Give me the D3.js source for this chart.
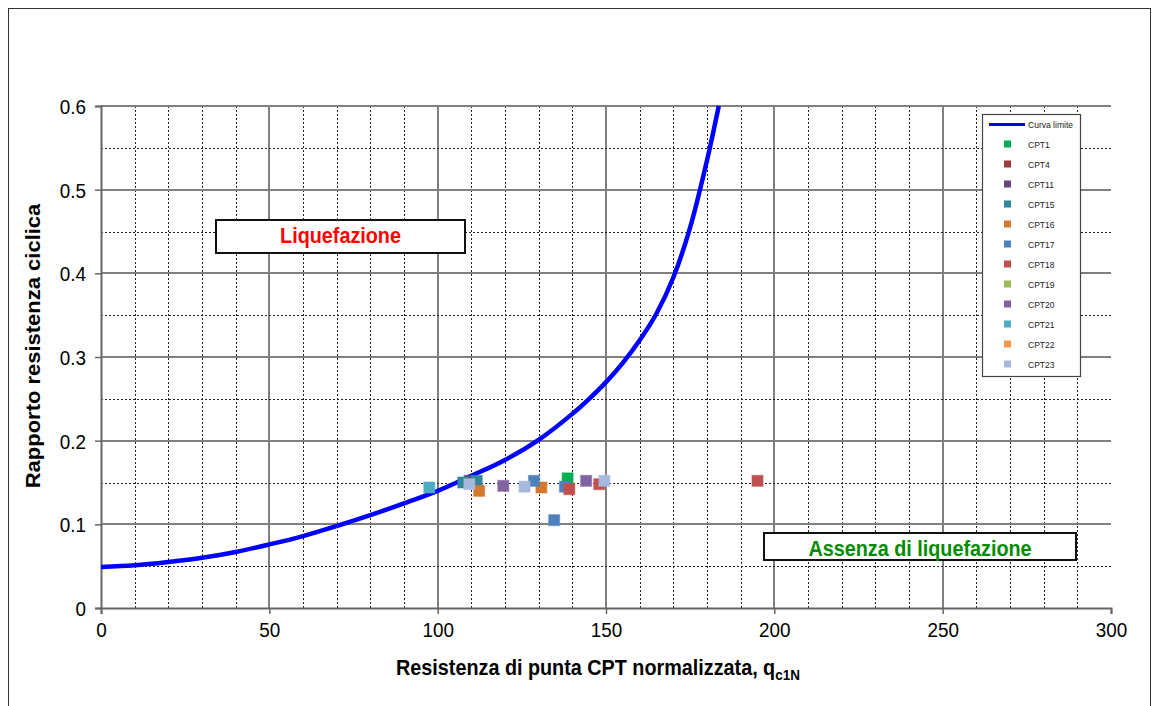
<!DOCTYPE html>
<html>
<head>
<meta charset="utf-8">
<script src="https://cdn.jsdelivr.net/npm/d3@7/dist/d3.min.js"></script>
<style>
  html, body { margin: 0; padding: 0; background: #fff; }
  svg { display: block; font-family: "Liberation Sans", Arial, sans-serif; }
</style>
</head>
<body>
<svg id="chart" width="1159" height="706"></svg>
<script>
// Limit curve (q_c1N vs CRR)
const curveQ   = [0, 10, 20, 30, 40, 50, 60, 70, 80, 90, 100, 110, 120, 130, 140, 145, 150, 155, 160, 165, 170, 175, 180, 183.5];
const curveCRR = [0.049, 0.051, 0.055, 0.060, 0.067, 0.076, 0.086, 0.098, 0.111, 0.125, 0.140, 0.158, 0.177, 0.201, 0.232, 0.250, 0.270, 0.293, 0.320, 0.352, 0.395, 0.455, 0.535, 0.600];

// CPT soundings: [q_c1N, CRR]
const CPT1  = [[138.6, 0.155]];
const CPT4  = [];
const CPT11 = [[109.5, 0.152]];
const CPT15 = [[107.6, 0.150], [111.6, 0.152]];
const CPT16 = [[112.3, 0.140], [130.8, 0.144]];
const CPT17 = [[128.6, 0.152], [134.6, 0.105], [137.8, 0.145]];
const CPT18 = [[139.1, 0.142], [148.0, 0.148], [195.0, 0.152]];
const CPT19 = [];
const CPT20 = [[119.5, 0.146], [144.1, 0.152]];
const CPT21 = [[97.5, 0.144]];
const CPT22 = [];
const CPT23 = [[109.4, 0.148], [125.8, 0.145], [149.5, 0.152]];

const seriesNames = ["CPT1", "CPT4", "CPT11", "CPT15", "CPT16", "CPT17", "CPT18", "CPT19", "CPT20", "CPT21", "CPT22", "CPT23"];
const seriesData  = [CPT1, CPT4, CPT11, CPT15, CPT16, CPT17, CPT18, CPT19, CPT20, CPT21, CPT22, CPT23];
const seriesColors = ["#00B050", "#A0393A", "#604A7B", "#31859C", "#D4782E", "#4F81BD",
                      "#C0504D", "#9BBB59", "#8064A2", "#4BACC6", "#F79646", "#A6B9DC"];

const xTicks = [0, 50, 100, 150, 200, 250, 300];
const yTicks = [0, 0.1, 0.2, 0.3, 0.4, 0.5, 0.6];
const yTickLabels = ["0", "0.1", "0.2", "0.3", "0.4", "0.5", "0.6"];

const svg = d3.select("#chart");
const SQ = 0.9; // horizontal compression of the text

// chart frame
svg.append("rect").attr("x", 8.5).attr("y", 8.5).attr("width", 1142).attr("height", 720)
  .attr("fill", "#fff").attr("stroke", "#333").attr("stroke-width", 1);

const L = 101, R = 1111, T = 106, B = 608;
const x = d3.scaleLinear().domain([0, 300]).range([L, R]);
const y = d3.scaleLinear().domain([0, 0.6]).range([B, T]);
const crisp = v => Math.round(v) + 0.5;

// grid: solid major lines, dashed minor lines
const grid = svg.append("g").attr("shape-rendering", "crispEdges");
d3.range(10, 300, 10).forEach(v => {
  const major = v % 50 === 0;
  const px = major ? Math.round(x(v)) : crisp(x(v));
  grid.append("line").attr("x1", px).attr("x2", px).attr("y1", T).attr("y2", B)
    .attr("stroke", major ? "#808080" : "#222")
    .attr("stroke-width", major ? 2 : 1)
    .attr("stroke-dasharray", major ? null : "2,2");
});
d3.range(1, 13).forEach(i => {
  const v = i * 0.05;
  const major = i % 2 === 0;
  const py = major ? Math.round(y(v)) : crisp(y(v));
  grid.append("line").attr("x1", L).attr("x2", R).attr("y1", py).attr("y2", py)
    .attr("stroke", major ? "#808080" : "#222")
    .attr("stroke-width", major ? 2 : 1)
    .attr("stroke-dasharray", major ? null : "2,2");
});

// axes
const xAxis = svg.append("g").attr("transform", `translate(0,${B})`)
  .call(d3.axisBottom(x).tickValues(xTicks).tickSize(6).tickFormat(d3.format("d")));
const yAxis = svg.append("g").attr("transform", `translate(${L},0)`)
  .call(d3.axisLeft(y).tickValues(yTicks).tickSize(6).tickFormat((d, i) => yTickLabels[i]));
[xAxis, yAxis].forEach(a => {
  a.select(".domain").attr("stroke", "#666").attr("stroke-width", 2);
  a.selectAll(".tick line").attr("stroke", "#666").attr("stroke-width", 1.5);
  a.selectAll(".tick text").attr("fill", "#000").style("font-size", "21px")
    .style("font-family", '"Liberation Sans", Arial, sans-serif');
});
xAxis.selectAll(".tick text").each(function() {
  const t = d3.select(this);
  t.attr("y", null).attr("dy", null).attr("transform", `translate(0,${637 - B}) scale(${SQ},1)`);
});
yAxis.selectAll(".tick text").each(function() {
  const t = d3.select(this);
  t.attr("x", null).attr("dy", "0.35em").attr("transform", `translate(${86 - L},0) scale(${SQ},1)`);
});

// limit curve
const curvePts = curveQ.map((q, i) => [q, curveCRR[i]]);
svg.append("path").datum(curvePts)
  .attr("fill", "none").attr("stroke", "#0000FF").attr("stroke-width", 4.5)
  .attr("stroke-linejoin", "round").attr("stroke-linecap", "butt")
  .attr("d", d3.line().x(d => x(d[0])).y(d => y(d[1])).curve(d3.curveCatmullRom.alpha(0.5)));

// CPT markers
const MS = 11;
seriesData.forEach((pts, si) => {
  svg.append("g").selectAll("rect").data(pts).join("rect")
    .attr("x", d => x(d[0]) - MS / 2).attr("y", d => y(d[1]) - MS / 2)
    .attr("width", MS).attr("height", MS)
    .attr("fill", seriesColors[si])
    .attr("stroke", seriesColors[si]).attr("stroke-opacity", 0.45).attr("stroke-width", 1.2);
});

// region labels
function labelBox(x0, y0, x1, y1, text, color, baseline) {
  svg.append("rect").attr("x", x0).attr("y", y0).attr("width", x1 - x0).attr("height", y1 - y0)
    .attr("fill", "#fff").attr("stroke", "#111").attr("stroke-width", 2);
  svg.append("text").attr("transform", `translate(${(x0 + x1) / 2},${baseline}) scale(${SQ},1)`)
    .attr("text-anchor", "middle").attr("fill", color)
    .style("font-size", "22px").style("font-weight", "bold").text(text);
}
labelBox(216, 220, 465, 253, "Liquefazione", "#FF0000", 243);
labelBox(764, 533, 1076, 560, "Assenza di liquefazione", "#008C00", 556);

// axis titles
const xt = svg.append("text").attr("transform", `translate(598,675) scale(${SQ},1)`)
  .attr("text-anchor", "middle").style("font-size", "22px").style("font-weight", "bold");
xt.append("tspan").text("Resistenza di punta CPT normalizzata, q");
xt.append("tspan").attr("dy", 5).style("font-size", "15px").text("c1N");

svg.append("text").attr("transform", `translate(40,346) scale(${SQ},1) rotate(-90)`)
  .attr("text-anchor", "middle").style("font-size", "22px").style("font-weight", "bold")
  .text("Rapporto resistenza ciclica");

// legend
const lg = svg.append("g");
lg.append("rect").attr("x", 982.5).attr("y", 114.5).attr("width", 98).attr("height", 262)
  .attr("fill", "#fff").attr("stroke", "#444").attr("stroke-width", 1.2);
lg.append("line").attr("x1", 989).attr("x2", 1025).attr("y1", 124.5).attr("y2", 124.5)
  .attr("stroke", "#0000FF").attr("stroke-width", 3);
lg.append("text").attr("transform", `translate(1028,127.5) scale(${SQ},1)`)
  .style("font-size", "9.5px").attr("fill", "#222").text("Curva limite");
seriesNames.forEach((n, i) => {
  const cy = 144 + i * 20;
  lg.append("rect").attr("x", 1004).attr("y", cy - 3.5).attr("width", 7).attr("height", 7)
    .attr("fill", seriesColors[i]);
  lg.append("text").attr("transform", `translate(1028,${cy + 3.5}) scale(${SQ},1)`)
    .style("font-size", "9.5px").attr("fill", "#222").text(n);
});
</script>
</body>
</html>
